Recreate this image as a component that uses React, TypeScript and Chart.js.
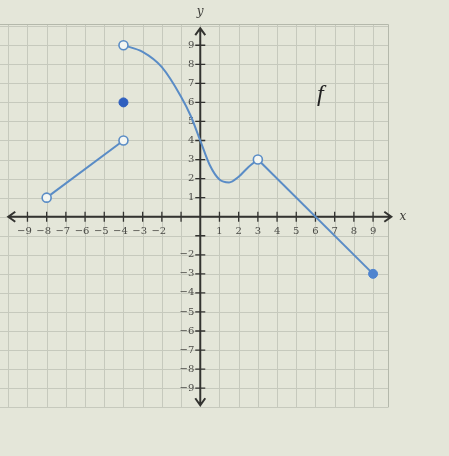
import React, { useEffect, useRef } from "react";
import { Chart, registerables } from "chart.js";

Chart.register(...registerables);

// Piece 1: straight segment (open ends)
const seg1X = [-8, -4];
const seg1Y = [1, 4];
// Piece 2: smooth curve from (-4,9) to (3,3)
const curveX = [-4, -3, -2, -1, -0.5, 0, 0.5, 1, 1.5, 2, 2.5, 3];
const curveY = [9, 8.65, 7.85, 6.3, 5.3, 4, 2.7, 1.95, 1.8, 2.1, 2.6, 3];
// Piece 3: straight segment to closed endpoint
const seg3X = [3, 9];
const seg3Y = [3, -3];
// Open circles
const openX = [-8, -4, -4, 3];
const openY = [1, 4, 9, 3];
// Filled points
const isolatedX = [-4];
const isolatedY = [6];
const endX = [9];
const endY = [-3];

const xTickLabels = [-9, -8, -7, -6, -5, -4, -3, -2, 1, 2, 3, 4, 5, 6, 7, 8, 9];
const yTickLabels = [9, 8, 7, 6, 5, 4, 3, 2, 1, -2, -3, -4, -5, -6, -7, -8, -9];
const tickValues = [-9, -8, -7, -6, -5, -4, -3, -2, -1, 1, 2, 3, 4, 5, 6, 7, 8, 9];

const LINE = "#5a8cc6";
const BG = "#e4e6d9";

const pts = (xs: number[], ys: number[]) => xs.map((x, i) => ({ x, y: ys[i] }));

const gridPlugin = {
  id: "mathGrid",
  beforeDatasetsDraw(chart: any) {
    const { ctx } = chart;
    const xs = chart.scales.x;
    const ys = chart.scales.y;
    const X = (v: number) => xs.getPixelForValue(v);
    const Y = (v: number) => ys.getPixelForValue(v);
    ctx.save();
    ctx.fillStyle = BG;
    ctx.fillRect(0, 0, chart.width, chart.height);

    // grid
    const gx0 = -10.5, gx1 = 9.8, gy0 = -10, gy1 = 10.1;
    ctx.strokeStyle = "#c6c9bd";
    ctx.lineWidth = 1;
    ctx.beginPath();
    for (let v = -10; v <= 9; v++) {
      const p = Math.round(X(v)) + 0.5;
      ctx.moveTo(p, Y(gy1));
      ctx.lineTo(p, Y(gy0));
    }
    for (let v = -10; v <= 10; v++) {
      const p = Math.round(Y(v)) + 0.5;
      ctx.moveTo(X(gx0), p);
      ctx.lineTo(X(gx1), p);
    }
    ctx.stroke();
    ctx.strokeStyle = "#b4b8ab";
    ctx.beginPath();
    ctx.moveTo(X(gx0), Math.round(Y(gy1)) + 0.5);
    ctx.lineTo(Math.round(X(gx1)) + 0.5, Math.round(Y(gy1)) + 0.5);
    ctx.lineTo(Math.round(X(gx1)) + 0.5, Y(gy0));
    ctx.stroke();

    // axes
    const ox = X(0), oy = Y(0);
    ctx.strokeStyle = "#333330";
    ctx.lineWidth = 2;
    ctx.beginPath();
    const xl = X(-10.0), xr = X(9.95);
    const yt = Y(9.9), yb = Y(-9.9);
    ctx.moveTo(xl, oy); ctx.lineTo(xr, oy);
    ctx.moveTo(ox, yt); ctx.lineTo(ox, yb);
    // arrowheads
    ctx.moveTo(xl + 7, oy - 5); ctx.lineTo(xl, oy); ctx.lineTo(xl + 7, oy + 5);
    ctx.moveTo(xr - 7, oy - 5); ctx.lineTo(xr, oy); ctx.lineTo(xr - 7, oy + 5);
    ctx.moveTo(ox - 5, yt + 7); ctx.lineTo(ox, yt); ctx.lineTo(ox + 5, yt + 7);
    ctx.moveTo(ox - 5, yb - 7); ctx.lineTo(ox, yb); ctx.lineTo(ox + 5, yb - 7);
    ctx.stroke();

    // tick marks
    ctx.lineWidth = 1.3;
    ctx.beginPath();
    tickValues.forEach((v) => {
      ctx.moveTo(X(v), oy - 5); ctx.lineTo(X(v), oy + 5);
      ctx.moveTo(ox - 5, Y(v)); ctx.lineTo(ox + 5, Y(v));
    });
    ctx.stroke();

    // tick labels
    ctx.fillStyle = "#4a4a46";
    ctx.font = "10px 'DejaVu Serif', serif";
    ctx.textAlign = "center";
    ctx.textBaseline = "middle";
    xTickLabels.forEach((v) => {
      const s = v < 0 ? "\u2212" + Math.abs(v) : String(v);
      ctx.fillText(s, X(v) - (v < 0 ? 3 : 0), oy + 15);
    });
    ctx.textAlign = "right";
    yTickLabels.forEach((v) => {
      const s = v < 0 ? "\u2212" + Math.abs(v) : String(v);
      ctx.fillText(s, ox - 6, Y(v));
    });

    // axis names and function name
    ctx.fillStyle = "#3a3a36";
    ctx.textAlign = "center";
    ctx.font = "italic 12px 'DejaVu Serif', serif";
    ctx.fillText("y", ox, Y(10.75));
    ctx.fillText("x", X(10.55), oy);
    ctx.fillStyle = "#222";
    ctx.font = "italic 24px 'Liberation Serif', serif";
    ctx.fillText("f", X(6.25), Y(6.4));
    ctx.restore();
  },
};

export default function App() {
  const ref = useRef<HTMLCanvasElement | null>(null);
  useEffect(() => {
    if (!ref.current) return;
    const chart = new Chart(ref.current, {
      type: "scatter",
      data: {
        datasets: [
          {
            data: pts(openX, openY),
            pointRadius: 4.5,
            pointBackgroundColor: "#f4f6f2",
            pointBorderColor: LINE,
            pointBorderWidth: 1.6,
            showLine: false,
            order: 0,
          },
          {
            data: pts(isolatedX, isolatedY),
            pointRadius: 4.5,
            pointBackgroundColor: "#2e5fbf",
            pointBorderColor: "#2e5fbf",
            showLine: false,
            order: 0,
          },
          {
            data: pts(endX, endY),
            pointRadius: 4.5,
            pointBackgroundColor: "#4f84cf",
            pointBorderColor: "#4f84cf",
            showLine: false,
            order: 0,
          },
          {
            data: pts(seg1X, seg1Y),
            showLine: true,
            borderColor: LINE,
            borderWidth: 2,
            pointRadius: 0,
            order: 1,
          },
          {
            data: pts(curveX, curveY),
            showLine: true,
            borderColor: LINE,
            borderWidth: 2,
            pointRadius: 0,
            cubicInterpolationMode: "monotone",
            order: 1,
          },
          {
            data: pts(seg3X, seg3Y),
            showLine: true,
            borderColor: LINE,
            borderWidth: 2,
            pointRadius: 0,
            order: 1,
          },
        ],
      } as any,
      options: {
        responsive: false,
        animation: false,
        layout: { padding: 0, autoPadding: false },
        plugins: { legend: { display: false }, tooltip: { enabled: false } },
        scales: {
          x: { type: "linear", min: -10.43, max: 12.955, display: false },
          y: { type: "linear", min: -12.562, max: 11.375, display: false },
        },
      } as any,
      plugins: [gridPlugin],
    });
    return () => chart.destroy();
  }, []);
  return (
    <div style={{ position: "fixed", left: 0, top: 0, width: 449, height: 456, background: BG }}>
      <canvas ref={ref} width={449} height={456} />
    </div>
  );
}
